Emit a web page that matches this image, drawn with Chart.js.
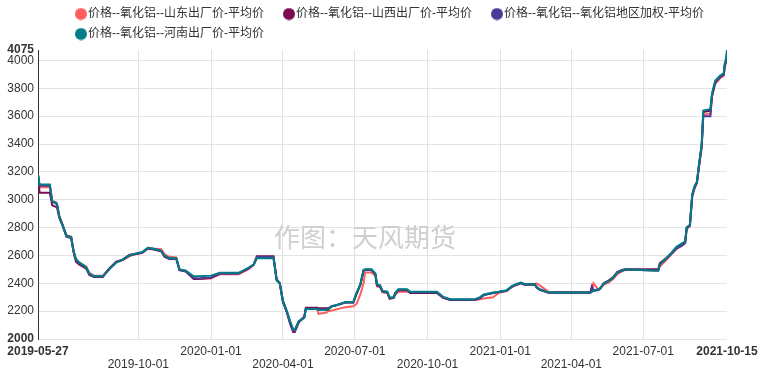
<!DOCTYPE html>
<html><head><meta charset="utf-8">
<script src="https://cdn.jsdelivr.net/npm/chart.js@4/dist/chart.umd.min.js"></script>
<style>html,body{margin:0;padding:0;background:#fff}#wrap{width:765px;height:377px;position:relative}</style>
</head><body><div id="wrap"><canvas id="c" width="765" height="377"></canvas></div>
<script>
const dates = [
'2019-05-27','2019-05-29','2019-06-11','2019-06-14','2019-06-18','2019-06-20','2019-06-23','2019-06-27','2019-07-02','2019-07-08',
'2019-07-11','2019-07-14','2019-07-18','2019-07-27','2019-07-31','2019-08-06','2019-08-17','2019-08-25','2019-09-03','2019-09-11',
'2019-09-20','2019-09-28','2019-10-06','2019-10-13','2019-10-19','2019-10-30','2019-11-03','2019-11-09','2019-11-18','2019-11-22',
'2019-11-30','2019-12-10','2019-12-16','2020-01-01','2020-01-12','2020-02-05','2020-02-17','2020-02-24','2020-02-28','2020-03-20',
'2020-03-24','2020-03-28','2020-04-01','2020-04-06','2020-04-10','2020-04-14','2020-04-16','2020-04-21','2020-04-25','2020-04-28',
'2020-04-30','2020-05-14','2020-05-16','2020-05-26','2020-05-28','2020-06-02','2020-06-06','2020-06-12','2020-06-19','2020-06-29',
'2020-07-03','2020-07-08','2020-07-12','2020-07-14','2020-07-22','2020-07-27','2020-07-29','2020-08-02','2020-08-05','2020-08-11',
'2020-08-14','2020-08-19','2020-08-21','2020-08-25','2020-09-05','2020-09-09','2020-10-13','2020-10-15','2020-10-21','2020-10-30',
'2020-11-30','2020-12-02','2020-12-06','2020-12-11','2020-12-23','2020-12-30','2021-01-09','2021-01-16','2021-01-22','2021-01-27',
'2021-02-01','2021-02-14','2021-02-16','2021-02-20','2021-03-03','2021-04-25','2021-04-27','2021-04-29','2021-05-05','2021-05-07',
'2021-05-12','2021-05-18','2021-05-24','2021-05-29','2021-06-04','2021-06-08','2021-06-27','2021-07-20','2021-07-22','2021-07-29',
'2021-08-06','2021-08-12','2021-08-19','2021-08-23','2021-08-25','2021-08-29','2021-09-01','2021-09-04','2021-09-07','2021-09-09',
'2021-09-13','2021-09-15','2021-09-24','2021-09-26','2021-09-30','2021-10-06','2021-10-11','2021-10-12','2021-10-14','2021-10-15'];

const shandong = [
3180,3090,3090,2990,2985,2975,2885,2825,2745,2735,
2635,2575,2550,2520,2475,2455,2455,2505,2550,2565,
2595,2610,2620,2655,2650,2645,2610,2590,2585,2500,
2490,2440,2430,2435,2465,2465,2500,2530,2585,2585,
2430,2400,2270,2195,2120,2060,2060,2125,2140,2155,
2215,2215,2180,2190,2200,2205,2210,2220,2228,2235,
2250,2320,2400,2478,2478,2455,2380,2370,2335,2330,
2290,2295,2315,2340,2340,2335,2335,2320,2295,2280,
2280,2282,2285,2290,2300,2330,2348,2378,2392,2405,
2395,2395,2400,2385,2340,2338,2350,2400,2357,2362,
2390,2405,2430,2465,2485,2495,2495,2492,2520,2560,
2610,2645,2670,2690,2790,2810,3020,3080,3120,3210,
3380,3610,3620,3740,3830,3870,3890,3950,3990,4020];

const shanxi = [
3180,3050,3050,2960,2950,2945,2870,2815,2735,2725,
2625,2555,2535,2505,2460,2445,2445,2505,2555,2570,
2605,2610,2618,2650,2645,2630,2590,2575,2575,2495,
2485,2430,2430,2440,2470,2470,2505,2535,2595,2595,
2430,2400,2265,2190,2110,2050,2050,2120,2145,2160,
2225,2225,2222,2220,2220,2235,2240,2252,2262,2262,
2320,2390,2490,2495,2495,2465,2385,2378,2340,2335,
2290,2295,2325,2350,2350,2330,2330,2322,2295,2280,
2280,2285,2292,2315,2330,2338,2345,2375,2390,2400,
2390,2390,2370,2352,2332,2332,2377,2345,2352,2358,
2400,2420,2445,2480,2495,2500,2500,2500,2545,2575,
2615,2650,2680,2695,2800,2815,3030,3090,3125,3220,
3390,3630,3640,3750,3845,3880,3900,3960,4000,4050];

const weighted = [
3180,3100,3100,2985,2975,2965,2875,2820,2740,2730,
2630,2565,2545,2510,2465,2448,2448,2500,2550,2568,
2600,2612,2620,2652,2648,2632,2595,2578,2578,2498,
2487,2438,2435,2442,2470,2472,2505,2535,2588,2588,
2425,2400,2270,2195,2120,2060,2058,2125,2140,2155,
2218,2218,2212,2210,2210,2235,2238,2250,2262,2262,
2325,2390,2492,2497,2497,2467,2390,2380,2342,2338,
2295,2298,2328,2353,2353,2335,2335,2325,2298,2282,
2282,2287,2295,2315,2330,2338,2347,2378,2393,2402,
2392,2392,2372,2355,2333,2333,2370,2350,2355,2360,
2398,2415,2440,2475,2490,2498,2495,2492,2535,2570,
2615,2650,2670,2690,2795,2815,3030,3090,3125,3220,
3390,3600,3600,3745,3840,3880,3900,3960,4000,4050];

const henan = [
3180,3110,3110,2990,2980,2970,2880,2820,2740,2730,
2630,2575,2550,2515,2470,2450,2450,2500,2550,2570,
2600,2615,2625,2655,2650,2635,2600,2580,2580,2500,
2490,2450,2450,2455,2475,2475,2510,2535,2580,2580,
2420,2400,2275,2200,2130,2070,2065,2130,2140,2155,
2215,2215,2210,2210,2210,2237,2240,2250,2265,2265,
2330,2393,2495,2500,2500,2470,2393,2385,2345,2340,
2298,2300,2330,2357,2357,2340,2340,2330,2302,2285,
2285,2290,2298,2320,2334,2340,2350,2381,2395,2405,
2393,2393,2375,2357,2334,2334,2338,2345,2355,2360,
2398,2415,2441,2477,2490,2500,2495,2490,2537,2573,
2621,2662,2686,2700,2800,2820,3040,3100,3130,3232,
3400,3640,3650,3760,3855,3890,3910,3975,4020,4075];

const seriesNames = ['价格--氧化铝--山东出厂价-平均价','价格--氧化铝--山西出厂价-平均价','价格--氧化铝--氧化铝地区加权-平均价','价格--氧化铝--河南出厂价-平均价'];
const seriesColors = ['#ff5e5e','#7d0a52','#4b3b98','#007d84'];
const xTickDates = ['2019-05-27','2019-10-01','2020-01-01','2020-04-01','2020-07-01','2020-10-01','2021-01-01','2021-04-01','2021-07-01','2021-10-15'];
const yTicks = [2000,2200,2400,2600,2800,3000,3200,3400,3600,3800,4000,4075];
const yMin = 2000, yMax = 4075;
const watermark = '作图：天风期货';

const FAMILY = '"Liberation Sans", Arial, "Noto Sans CJK SC", sans-serif';
const toMs = d => Date.parse(d + 'T00:00:00Z');
const fmt = v => new Date(v).toISOString().slice(0, 10);

const BOXW = 18, IMGW = 30;
function dotImage(color) {
  const c = document.createElement('canvas');
  c.width = IMGW; c.height = 13;
  const g = c.getContext('2d');
  g.fillStyle = color;
  g.beginPath(); g.arc(BOXW / 2 + IMGW / 2 - 1, 6.5, 6, 0, Math.PI * 2); g.fill();
  return c;
}
const dots = seriesColors.map(dotImage);

const allSeries = [shandong, shanxi, weighted, henan];
const datasets = allSeries.map((arr, k) => ({
  label: seriesNames[k],
  data: dates.map((d, i) => ({x: toMs(d), y: arr[i]})),
  borderColor: seriesColors[k],
  backgroundColor: seriesColors[k],
  borderWidth: 2,
  pointRadius: 0,
  tension: 0,
  fill: false,
  order: allSeries.length - 1 - k
}));

const watermarkPlugin = {
  id: 'wm',
  beforeDraw(chart) { chart.legend.left = 56; },
  beforeDatasetsDraw(chart) {
    const ctx = chart.ctx;
    ctx.save();
    ctx.font = '26px "Noto Sans CJK SC", sans-serif';
    ctx.fillStyle = '#cfcfcf';
    ctx.textAlign = 'center';
    ctx.textBaseline = 'middle';
    ctx.fillText(watermark, 365, 237);
    ctx.restore();
  }
};

new Chart(document.getElementById('c'), {
  type: 'line',
  data: { datasets },
  plugins: [watermarkPlugin],
  options: {
    responsive: false,
    animation: false,
    devicePixelRatio: 1,
    layout: { padding: { top: 0, right: 38, bottom: 0, left: 0 } },
    plugins: {
      tooltip: { enabled: false },
      legend: {
        position: 'top',
        align: 'start',
        labels: {
          font: { size: 12, family: FAMILY },
          color: '#333',
          padding: 8,
          usePointStyle: true,
          pointStyleWidth: BOXW,
          boxHeight: 12,
          generateLabels(chart) {
            return chart.data.datasets.map((ds, i) => ({
              text: ds.label,
              fillStyle: ds.borderColor,
              strokeStyle: ds.borderColor,
              lineWidth: 0,
              pointStyle: dots[i],
              datasetIndex: i,
              hidden: false,
              fontColor: '#333'
            }));
          }
        }
      }
    },
    scales: {
      x: {
        type: 'linear',
        min: toMs(xTickDates[0]),
        max: toMs(xTickDates[xTickDates.length - 1]),
        afterBuildTicks: s => { s.ticks = xTickDates.map(d => ({value: toMs(d)})); },
        afterFit: s => { s.height = 38; },
        border: { display: false },
        grid: {
          drawTicks: false,
          color: c => (c.index === xTickDates.length - 1 ? 'rgba(0,0,0,0)' : '#e3e3e3'),
          lineWidth: 1
        },
        ticks: {
          autoSkip: false,
          maxRotation: 0,
          minRotation: 0,
          padding: 6,
          color: '#333',
          font: c => ({ size: 12, family: FAMILY, lineHeight: 1.1,
            weight: (c.index === 0 || c.index === xTickDates.length - 1) ? 'bold' : 'normal' }),
          callback: (v, i) => {
            const lab = fmt(v);
            return (i % 2 === 1 && i !== xTickDates.length - 1) ? ['', lab] : lab;
          }
        }
      },
      y: {
        type: 'linear',
        min: yMin,
        max: yMax,
        afterBuildTicks: s => { s.ticks = yTicks.map(v => ({value: v})); },
        afterFit: s => { s.width = 38; },
        border: { display: true, color: '#333', width: 1 },
        grid: {
          drawTicks: false,
          color: c => (c.tick && c.tick.value === yMax ? 'rgba(0,0,0,0)' : '#e3e3e3'),
          lineWidth: 1
        },
        ticks: {
          padding: 4,
          color: '#333',
          font: c => ({ size: 12, family: FAMILY,
            weight: (c.tick && (c.tick.value === yMin || c.tick.value === yMax)) ? 'bold' : 'normal' }),
          callback: v => String(v)
        }
      }
    }
  }
});
</script></body></html>
